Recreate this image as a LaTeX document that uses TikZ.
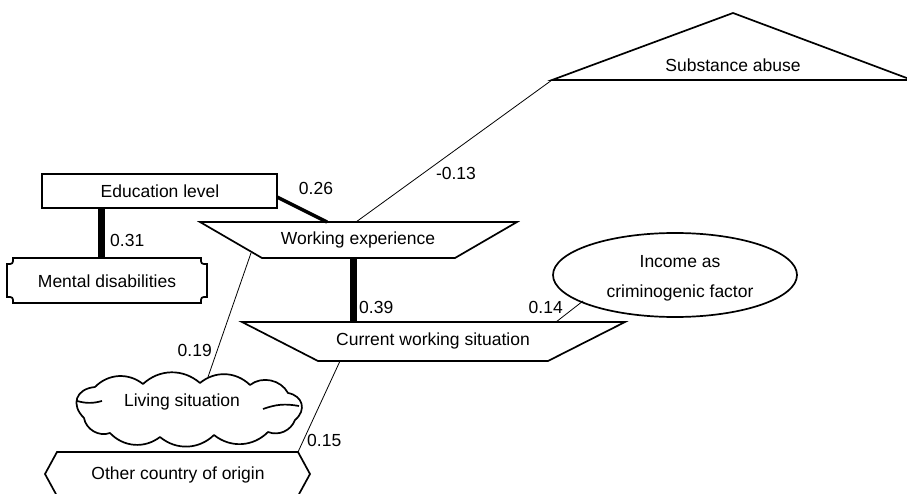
\documentclass[tikz,border=0pt]{standalone}
\usepackage{fontspec}
\setmainfont{Liberation Sans}
\begin{document}
\begin{tikzpicture}[x=1pt,y=-1pt,
  every node/.style={font=\fontsize{17.5}{21}\selectfont, inner sep=0pt},
  shapeline/.style={draw=black, line width=1.7pt, line join=miter},
  thinlink/.style={line width=0.8pt},
  midlink/.style={line width=3.5pt},
  stronglink/.style={line width=7pt}]
\useasboundingbox (0,0) rectangle (907,494);
\clip (0,0) rectangle (907,494);

% Substance abuse (triangle)
\draw[shapeline] (552,80) -- (733,13) -- (912,80) -- cycle;
\node (sub) at (733,65) {Substance abuse};
\coordinate (subL) at (552,80);

% Education level
\draw[shapeline] (42,174) rectangle (277,208);
\node (edu) at (160,191) {Education level};
\coordinate (eduR) at (277,197);
\coordinate (eduB) at (101,208);

% Mental disabilities
\draw[shapeline] (13,258) -- (201,258) .. controls (201,264) .. (207,264) -- (207,297)
  .. controls (201,297) .. (201,303) -- (13,303) .. controls (13,297) .. (7,297)
  -- (7,264) .. controls (13,264) .. (13,258) -- cycle;
\node (md) at (107,281) {Mental disabilities};
\coordinate (mdT) at (101,258);

% Working experience
\draw[shapeline] (200,222) -- (517,222) -- (455,258) -- (262,258) -- cycle;
\node (we) at (358,240) {Working experience};
\coordinate (weT1) at (356,222);
\coordinate (weT2) at (327,222);
\coordinate (weB) at (353,258);
\coordinate (weBL) at (251,253);

% Current working situation
\draw[shapeline] (242,322) -- (625,322) -- (548,361) -- (318,361) -- cycle;
\node (cws) at (433,341) {Current working situation};
\coordinate (cwsT) at (353,322);
\coordinate (cwsTR) at (556,322);
\coordinate (cwsB) at (340,361);

% Income as criminogenic factor
\draw[shapeline] (675,275) ellipse [x radius=122pt, y radius=42pt];
\node[align=center, font=\fontsize{17.5}{30}\selectfont] (inc) at (680,278) {Income as\\criminogenic factor};
\coordinate (incBL) at (583,301);

% Living situation (cloud)
\draw[shapeline, line join=round]
  (95,387) to[bend left=42] (143,384) to[bend left=42] (200,383)
  to[bend left=42] (250,385) to[bend left=50] (288,393)
  to[bend left=65, looseness=1.4] (295,420) to[bend left=45] (268,432)
  to[bend left=42] (214,435) to[bend left=42] (160,437)
  to[bend left=42] (110,433) to[bend left=50] (84,418)
  to[bend left=65, looseness=1.5] (95,387);
\draw[shapeline] (77,401) to[bend right=15] (102,401);
\draw[shapeline] (263,409) to[bend left=15] (299,406);
\node (liv) at (182,402) {Living situation};
\coordinate (livT) at (208,377);

% Other country of origin
\draw[shapeline] (57,452) -- (298,452) -- (310,474) -- (298,496) -- (57,496) -- (45,474) -- cycle;
\node (occ) at (178,475) {Other country of origin};
\coordinate (occTR) at (298,452);

% Connectors
\draw[thinlink] (subL) -- (weT1);
\node (l13) at (456,173) {-0.13};
\draw[midlink] (eduR) -- (weT2);
\node (l26) at (316,188) {0.26};
\draw[stronglink] (eduB) -- (mdT);
\node[anchor=west] (l31) at (110,240) {0.31};
\draw[stronglink] (weB) -- (cwsT);
\node[anchor=west] (l39) at (359,307) {0.39};
\draw[thinlink] (cwsTR) -- (incBL);
\node[anchor=east] (l14) at (563,307) {0.14};
\draw[thinlink] (weBL) -- (livT);
\node[anchor=east] (l19) at (212,350) {0.19};
\draw[thinlink] (cwsB) -- (occTR);
\node[anchor=west] (l15) at (307,440) {0.15};
\end{tikzpicture}
\end{document}
